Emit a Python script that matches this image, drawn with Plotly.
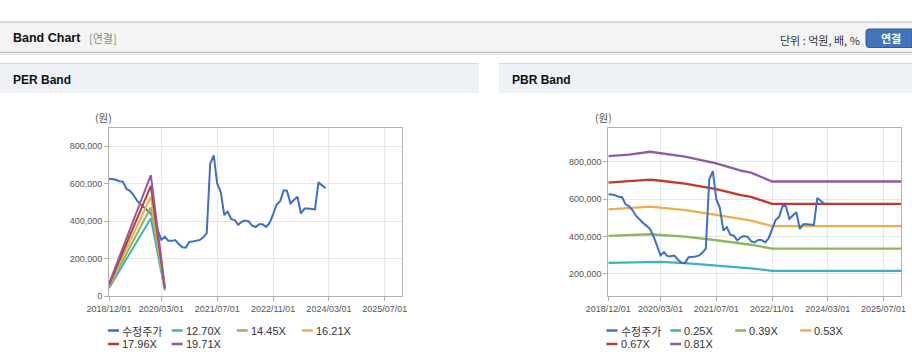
import plotly.graph_objects as go

W, H = 912, 364

# ---------------- data ----------------
price_dates = [
    "2018-12-01",
    "2019-01-01", "2019-02-01", "2019-03-01", "2019-04-01", "2019-05-01", "2019-06-01",
    "2019-07-01", "2019-08-01", "2019-09-01", "2019-10-01", "2019-11-01", "2019-12-01",
    "2020-01-01", "2020-02-01", "2020-03-01", "2020-04-01", "2020-05-01", "2020-06-01",
    "2020-07-01", "2020-08-01", "2020-09-01", "2020-10-01", "2020-11-01", "2020-12-01",
    "2021-01-01", "2021-02-01", "2021-03-01", "2021-04-01", "2021-05-01", "2021-06-01",
    "2021-07-01", "2021-08-01", "2021-09-01", "2021-10-01", "2021-11-01", "2021-12-01",
    "2022-01-01", "2022-02-01", "2022-03-01", "2022-04-01", "2022-05-01", "2022-06-01",
    "2022-07-01", "2022-08-01", "2022-09-01", "2022-10-01", "2022-11-01", "2022-12-01",
    "2023-01-01", "2023-02-01", "2023-03-01", "2023-04-01", "2023-05-01", "2023-06-01",
    "2023-07-01", "2023-08-01", "2023-09-01", "2023-10-01", "2023-11-01", "2023-12-01",
    "2024-01-01", "2024-02-01",
]
price = [
    626000,
    625000, 620000, 612000, 610000, 572000, 561000,
    540000, 510000, 490000, 472000, 457000, 440000,
    400000, 352000, 300000, 316000, 294000, 294000,
    298000, 276000, 260000, 258000, 289000, 291000,
    293000, 299000, 313000, 335000, 705000, 750000,
    600000, 555000, 432000, 450000, 410000, 405000,
    380000, 396000, 402000, 398000, 375000, 368000,
    382000, 382000, 368000, 390000, 437000, 488000,
    505000, 564000, 562000, 494000, 512000, 530000,
    440000, 466000, 466000, 463000, 462000, 606000,
    588000, 575000,
]

per_dates = ["2018-12-01", "2019-12-01", "2020-04-01"]
per_names = ["12.70X", "14.45X", "16.21X", "17.96X", "19.71X"]
per_1270 = [42000, 415000, 29000]
per_1445 = [48000, 473000, 33000]
per_1621 = [54000, 530000, 37000]
per_1796 = [59000, 587000, 41000]
per_1971 = [65000, 645000, 45000]

pbr_dates = ["2018-12-01", "2019-06-01", "2019-12-01", "2020-03-01", "2020-10-01",
             "2021-07-01", "2022-02-01", "2022-05-01", "2022-11-01", "2025-12-01"]
pbr_names = ["0.25X", "0.39X", "0.53X", "0.67X", "0.81X"]
pbr_025 = [259000, 262000, 265000, 264000, 258000, 246000, 234000, 230000, 216000, 216000]
pbr_039 = [403000, 407000, 412000, 408000, 399000, 380000, 362000, 356000, 335000, 335000]
pbr_053 = [545000, 551000, 560000, 554000, 541000, 516000, 492000, 485000, 456000, 456000]
pbr_067 = [688000, 695000, 704000, 698000, 683000, 653000, 621000, 612000, 574000, 574000]
pbr_081 = [830000, 838000, 853000, 845000, 827000, 791000, 752000, 741000, 694000, 694000]

x_tickvals = ["2018-12-01", "2020-03-01", "2021-07-01", "2022-11-01", "2024-03-01", "2025-07-01"]
x_ticktext = ["2018/12/01", "2020/03/01", "2021/07/01", "2022/11/01", "2024/03/01", "2025/07/01"]
per_yticks = [0, 200000, 400000, 600000, 800000]
pbr_yticks = [200000, 400000, 600000, 800000]

price_name = "수정주가"
price_color = "#3d6fc5"
band_colors = ["#3fb0c2", "#93b55a", "#eeae4a", "#c0392e", "#8e5aa0"]

FONT = "Liberation Sans, Arial, Noto Sans CJK KR, sans-serif"
KFONT = "Noto Sans CJK KR, Liberation Sans, sans-serif"


def X(px):
    return px / W


def Y(py):
    return 1 - py / H


fig = go.Figure()

# PER chart: price then bands
per_series = [per_1270, per_1445, per_1621, per_1796, per_1971]
fig.add_trace(go.Scatter(x=price_dates, y=price, mode="lines", name=price_name,
                         line=dict(color=price_color, width=2), xaxis="x", yaxis="y",
                         showlegend=False))
for nm, ser, col in zip(per_names, per_series, band_colors):
    fig.add_trace(go.Scatter(x=per_dates, y=ser, mode="lines", name=nm,
                             line=dict(color=col, width=2), xaxis="x", yaxis="y",
                             showlegend=False))

# PBR chart
pbr_series = [pbr_025, pbr_039, pbr_053, pbr_067, pbr_081]
for nm, ser, col in zip(pbr_names, pbr_series, band_colors):
    fig.add_trace(go.Scatter(x=pbr_dates, y=ser, mode="lines", name=nm,
                             line=dict(color=col, width=2.3), xaxis="x2", yaxis="y2",
                             showlegend=False))
fig.add_trace(go.Scatter(x=price_dates, y=price, mode="lines", name=price_name,
                         line=dict(color=price_color, width=2), xaxis="x2", yaxis="y2",
                         showlegend=False))

axis_common = dict(showgrid=True, gridcolor="#e6e6e6", gridwidth=1,
                   showline=True, linecolor="#b0b0b0", linewidth=1, mirror=True,
                   ticks="outside", ticklen=4, tickcolor="#b0b0b0",
                   tickfont=dict(family=FONT, size=9, color="#555555"),
                   zeroline=False, fixedrange=True, automargin=False)

xr = ["2018-12-01", "2025-12-01"]
fig.update_layout(
    xaxis=dict(type="date", range=xr, tickmode="array", tickvals=x_tickvals, ticktext=x_ticktext,
               domain=[X(109), X(402.3)], anchor="y", **axis_common),
    yaxis=dict(range=[0, 896000], tickmode="array", tickvals=per_yticks, tickformat=",d",
               domain=[Y(296), Y(128)], anchor="x", **axis_common),
    xaxis2=dict(type="date", range=xr, tickmode="array", tickvals=x_tickvals, ticktext=x_ticktext,
                domain=[X(608.3), X(901)], anchor="y2", **axis_common),
    yaxis2=dict(range=[82000, 980000], tickmode="array", tickvals=pbr_yticks, tickformat=",d",
                domain=[Y(296), Y(128)], anchor="x2", **axis_common),
)

shapes = []
# header bar
shapes.append(dict(type="rect", xref="paper", yref="paper", x0=X(0), x1=X(912), y0=Y(53), y1=Y(22),
                   fillcolor="#f4f4f4", line=dict(width=0), layer="below"))
shapes.append(dict(type="line", xref="paper", yref="paper", x0=X(0), x1=X(912), y0=Y(22), y1=Y(22),
                   line=dict(color="#b8b8b8", width=1.2), layer="below"))
shapes.append(dict(type="line", xref="paper", yref="paper", x0=X(0), x1=X(912), y0=Y(52.5), y1=Y(52.5),
                   line=dict(color="#c4c4c4", width=1.5), layer="below"))
shapes.append(dict(type="line", xref="paper", yref="paper", x0=X(0), x1=X(912), y0=Y(54), y1=Y(54),
                   line=dict(color="#e6e6e6", width=1.5), layer="below"))
# panel headers
for (a, b) in [(0, 479), (499, 912)]:
    shapes.append(dict(type="rect", xref="paper", yref="paper", x0=X(a), x1=X(b), y0=Y(93), y1=Y(64),
                       fillcolor="#eef2f7", line=dict(width=0), layer="below"))
    shapes.append(dict(type="line", xref="paper", yref="paper", x0=X(a), x1=X(b), y0=Y(63.5), y1=Y(63.5),
                       line=dict(color="#d4d8de", width=1), layer="below"))
# button (rounded left corners)
bx0, bx1, by0, by1, r = 866, 912, 29, 47.5, 3
path = (f"M {X(bx0 + r)},{Y(by0)} L {X(bx1)},{Y(by0)} "
        f"L {X(bx1)},{Y(by1)} "
        f"L {X(bx0 + r)},{Y(by1)} Q {X(bx0)},{Y(by1)} {X(bx0)},{Y(by1 - r)} "
        f"L {X(bx0)},{Y(by0 + r)} Q {X(bx0)},{Y(by0)} {X(bx0 + r)},{Y(by0)} Z")
shapes.append(dict(type="path", xref="paper", yref="paper", path=path,
                   fillcolor="#4274b9", line=dict(color="#2f5d9c", width=1), layer="below"))

annotations = []


def txt(x, y, s, size=11, color="#333333", bold=False, anchor="left", family=FONT):
    if bold:
        s = f"<b>{s}</b>"
    annotations.append(dict(xref="paper", yref="paper", x=X(x), y=Y(y), text=s, showarrow=False,
                            xanchor=anchor, yanchor="middle", borderpad=0,
                            font=dict(family=family, size=size, color=color)))


txt(12, 38.5, "Band Chart", size=12.5, color="#111111", bold=True)
txt(88, 38.5, "[연결]", size=11, color="#8a8a8a", family=KFONT)
txt(861, 39.5, "단위 : 억원, 배, %", size=11, color="#333333", anchor="right", family=KFONT)
txt(891, 38.5, "연결", size=11, color="#ffffff", bold=True, anchor="center", family=KFONT)
txt(12, 80, "PER Band", size=12, color="#111111", bold=True)
txt(511, 80, "PBR Band", size=12, color="#111111", bold=True)
txt(103.5, 118, "(원)", size=10.5, color="#555555", anchor="center", family=KFONT)
txt(603.5, 118, "(원)", size=10.5, color="#555555", anchor="center", family=KFONT)


# manual legends
def legend(x_off, names):
    cols = [108, 171.7, 236.7, 301.7]
    entries = [(price_name, price_color)] + list(zip(names, band_colors))
    for i, (nm, col) in enumerate(entries):
        row, c = divmod(i, 4)
        yy = 330.5 + row * 13.5
        x0 = cols[c] + x_off
        shapes.append(dict(type="line", xref="paper", yref="paper", x0=X(x0), x1=X(x0 + 11),
                           y0=Y(yy), y1=Y(yy), line=dict(color=col, width=2.5)))
        txt(x0 + 13, yy, nm, size=11, color="#333333",
            family=KFONT if nm == price_name else FONT)


legend(0, per_names)
legend(498.5, pbr_names)

fig.update_layout(
    width=W, height=H, margin=dict(l=0, r=0, t=0, b=0, pad=0, autoexpand=False),
    paper_bgcolor="#ffffff", plot_bgcolor="#ffffff",
    shapes=shapes, annotations=annotations, showlegend=False,
    font=dict(family=FONT),
)

fig.write_html("out.html", config={"displayModeBar": False},
               post_script="document.body.style.margin='0';")
